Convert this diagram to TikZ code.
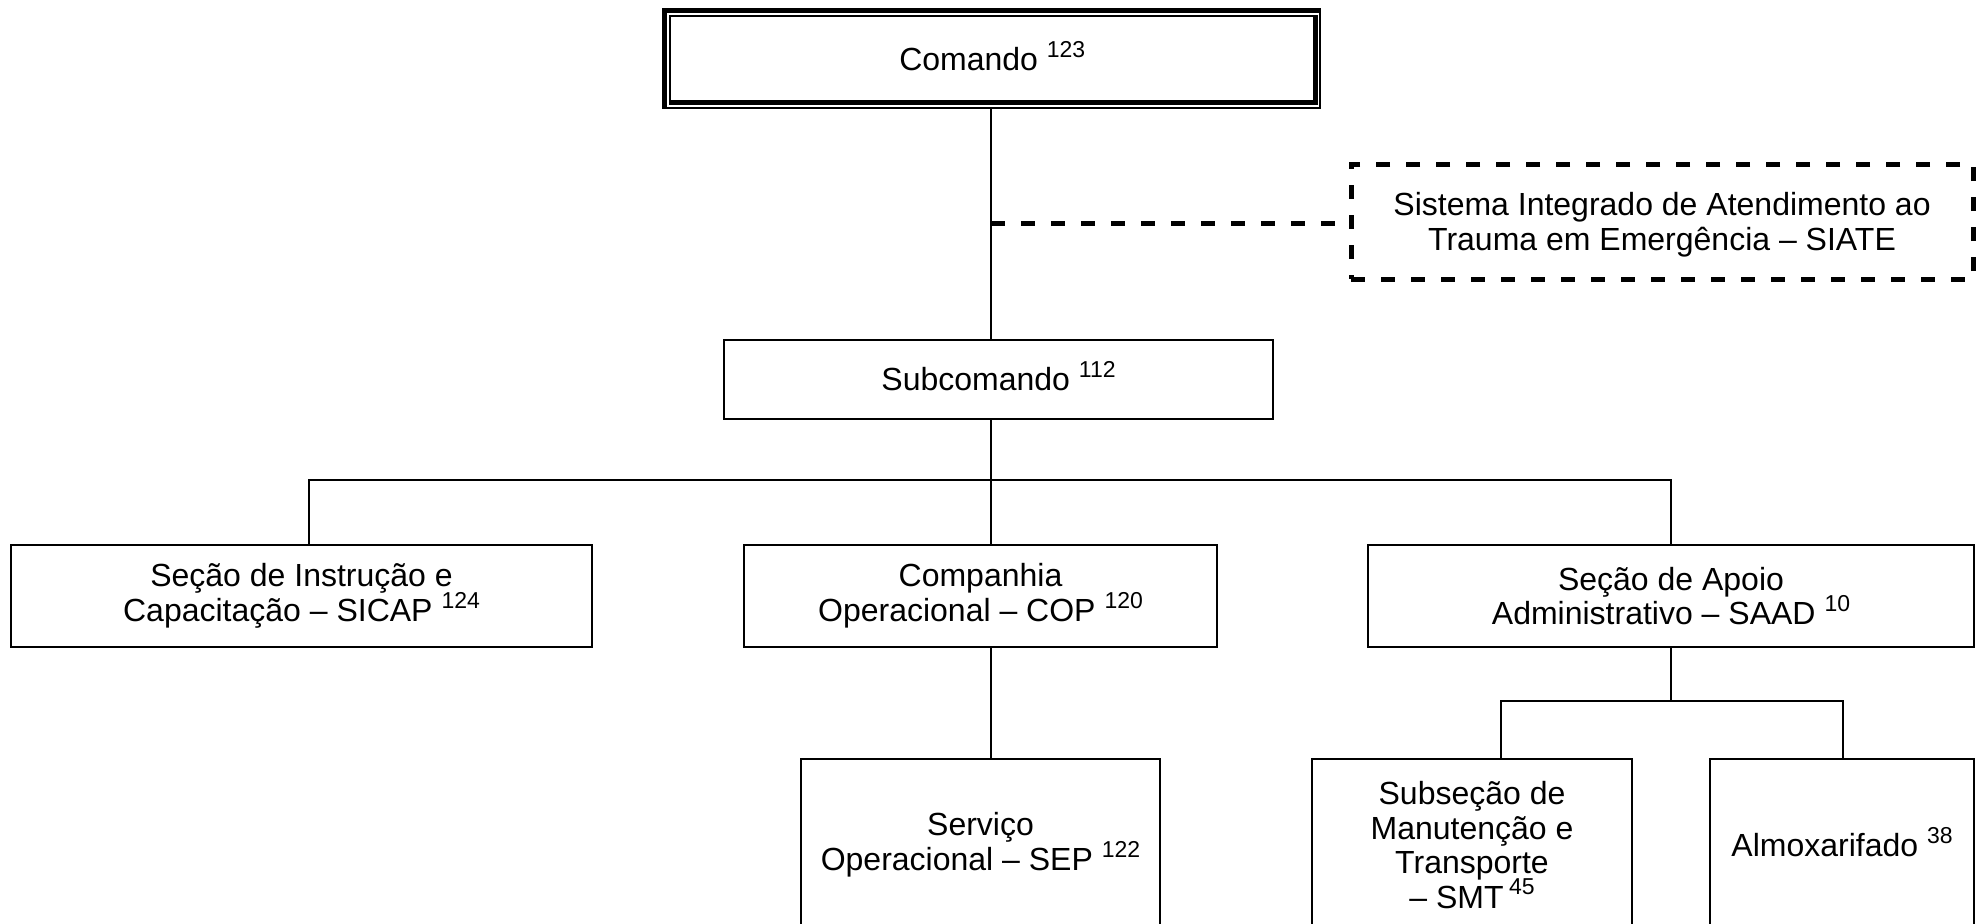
\documentclass[tikz,border=0pt]{standalone}
\usepackage{fontspec}
\setmainfont{Liberation Sans}
% raised reference numbers, smashed so they never widen the line spacing
\newcommand\supn[1]{\raisebox{0.42em}[0pt][0pt]{\fontsize{11.5}{11.5}\selectfont #1}}
\tikzset{
  orgbox/.style={draw=black, line width=1pt, inner sep=0pt, align=center,
    font=\fontsize{16}{17.3}\selectfont},
  link/.style={draw=black, line width=1pt},
  dashlink/.style={draw=black, line width=2.5pt, dash pattern=on 7pt off 8pt},
}
\begin{document}
\begin{tikzpicture}[x=0.5pt, y=-0.5pt]
  \clip (0,0) rectangle (1984,923);
  \fill[white] (0,0) rectangle (1984,923);

  % helper coordinates for the trunk and the branch bars
  \coordinate (tx) at (991,0);
  \coordinate (dy) at (0,223.5);
  \coordinate (bus) at (0,480);
  \coordinate (b1) at (309,480);
  \coordinate (b3) at (1671,480);
  \coordinate (s1) at (1501,701);
  \coordinate (s2) at (1843,701);

  % Comando with its double frame
  \node[orgbox, draw=none, minimum width=327.75pt, minimum height=48.75pt]
    (cmd) at (992.25,59.25) {Comando \supn{123}};
  \draw[line width=2.5pt] (664.5,8) -- (664.5,109);
  \draw[line width=2.5pt] (662,10.5) -- (1321,10.5);
  \draw[line width=1pt] (1320,8) -- (1320,109);
  \draw[line width=1pt] (662,108) -- (1321,108);
  \draw[line width=1pt] (670,15) -- (670,105);
  \draw[line width=1pt] (669,16) -- (1318,16);
  \draw[line width=2.5pt] (1315,15) -- (1315,105);
  \draw[line width=2.5pt] (669,102) -- (1318,102);

  % SIATE (dashed), text set a little below the centre
  \node[orgbox, line width=2.5pt, dash pattern=on 7pt off 8pt,
    minimum width=311pt, minimum height=57.5pt]
    (siate) at (1662,221.5) {\raisebox{-6.5pt}[0pt][0pt]{\begin{tabular}{@{}c@{}}Sistema Integrado de Atendimento ao\\Trauma em Emergência – SIATE\end{tabular}}};

  % Subcomando
  \node[orgbox, minimum width=274.5pt, minimum height=39.5pt]
    (sub) at (998.5,379.5) {Subcomando \supn{112}};

  % second level
  \node[orgbox, minimum width=290.5pt, minimum height=51pt]
    (sicap) at (301.5,596) {Seção de Instrução e\\Capacitação – SICAP \supn{124}};
  \node[orgbox, minimum width=236.5pt, minimum height=51pt]
    (cop) at (980.5,596) {Companhia\\Operacional – COP \supn{120}};
  \node[orgbox, minimum width=303pt, minimum height=51pt]
    (saad) at (1671,596) {Seção de Apoio\\Administrativo – SAAD \supn{10}};

  % third level
  \node[orgbox, minimum width=179.5pt, minimum height=86pt]
    (sep) at (980.5,845) {Serviço\\Operacional – SEP \supn{122}};
  \node[orgbox, minimum width=160pt, minimum height=86pt]
    (smt) at (1472,845) {Subseção de\\Manutenção e\\Transporte\\– SMT\,\supn{45}};
  \node[orgbox, minimum width=132pt, minimum height=86pt]
    (alm) at (1842,845) {Almoxarifado \supn{38}};

  % connectors
  \draw[link] (tx |- cmd.south) -- (tx |- sub.north);
  \draw[dashlink] (tx |- dy) -- (dy -| siate.west);
  \draw[link] (tx |- sub.south) -- (tx |- bus);
  \draw[link] (b1 |- sicap.north) -- (b1) -- (b3) -- (b3 |- saad.north);
  \draw[link] (tx |- bus) -- (tx |- cop.north);
  \draw[link] (tx |- cop.south) -- (tx |- sep.north);
  \draw[link] (saad.south) -- (saad.south |- s1);
  \draw[link] (s1 |- smt.north) -- (s1) -- (s2) -- (s2 |- alm.north);
\end{tikzpicture}
\end{document}
